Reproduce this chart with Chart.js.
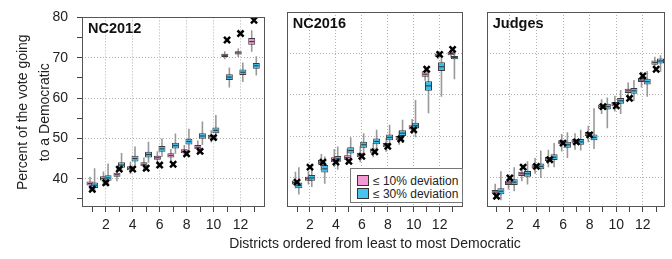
<!DOCTYPE html>
<html>
<head>
<meta charset="utf-8">
<script src="https://cdn.jsdelivr.net/npm/chart.js@4.4.0/dist/chart.umd.min.js"></script>
<style>
  body { margin: 0; background: #fff; width: 672px; height: 259px; position: relative; overflow: hidden;
         font-family: "Liberation Sans", Arial, Helvetica, sans-serif; color: #222; }
  canvas { position: absolute; top: 0; }
  #xtitle { position: absolute; left: 175px; width: 400px; top: 234px; text-align: center; font-size: 14px; line-height: 18px; }
  #leyenda { position: absolute; left: 350px; top: 168px; width: 111px; height: 33px; border: 1px solid #777; background: #fff; font-size: 12px; }
  .fila { position: absolute; left: 6px; height: 12px; line-height: 12px; white-space: nowrap; }
  .cuadro { display: inline-block; width: 10px; height: 9px; border: 1px solid #333; vertical-align: top; margin-right: 4px; }
</style>
</head>
<body>
<canvas id="panel1" width="272" height="240" style="left:0px"></canvas>
<canvas id="panel2" width="190" height="240" style="left:280px"></canvas>
<canvas id="panel3" width="192" height="240" style="left:480px"></canvas>
<div id="xtitle">Districts ordered from least to most Democratic</div>
<div id="leyenda">
  <div class="fila" style="top:6px"><span class="cuadro" style="background:#f49ad2"></span>≤ 10% deviation</div>
  <div class="fila" style="top:19px"><span class="cuadro" style="background:#45c4f0"></span>≤ 30% deviation</div>
</div>
<script>
// distritos ordenados de menos a más demócrata
const districts = [1, 2, 3, 4, 5, 6, 7, 8, 9, 10, 11, 12, 13];

// NC2012 - cajas rosas (≤ 10% deviation)
const nc12PinkMed = [38.8, 40.1, 41.0, 42.6, 43.6, 45.2, 45.8, 46.8, 47.8, 50.4, 70.6, 71.2, 74.0];
const nc12PinkQ1  = [38.3, 39.6, 40.5, 42.1, 43.1, 44.7, 45.3, 46.3, 47.3, 49.9, 70.2, 70.8, 73.2];
const nc12PinkQ3  = [39.3, 40.6, 41.5, 43.1, 44.1, 45.7, 46.3, 47.3, 48.4, 50.9, 71.0, 71.6, 74.9];
const nc12PinkLo  = [37.2, 38.5, 39.4, 41.2, 42.0, 43.8, 44.4, 45.3, 46.3, 49.0, 69.6, 70.2, 71.5];
const nc12PinkHi  = [40.5, 41.8, 42.6, 44.2, 45.3, 46.8, 47.4, 48.4, 49.5, 52.0, 71.6, 72.3, 76.8];
// NC2012 - cajas azules (≤ 30% deviation)
const nc12BlueMed = [38.4, 40.2, 43.4, 45.0, 46.0, 47.4, 48.2, 49.2, 50.6, 52.0, 65.2, 66.4, 68.0];
const nc12BlueQ1  = [37.7, 39.5, 42.7, 44.3, 45.3, 46.7, 47.5, 48.5, 49.9, 51.3, 64.5, 65.7, 67.3];
const nc12BlueQ3  = [39.1, 40.9, 44.1, 45.7, 46.7, 48.1, 48.9, 49.9, 51.3, 52.7, 65.9, 67.1, 68.7];
const nc12BlueLo  = [36.5, 38.2, 41.6, 43.0, 44.0, 45.4, 46.2, 47.2, 48.4, 49.6, 62.6, 64.0, 65.6];
const nc12BlueHi  = [42.6, 43.8, 46.4, 48.0, 49.2, 50.0, 51.2, 52.4, 54.2, 55.8, 67.6, 68.8, 70.4];
// NC2012 - resultado real (cruces)
const nc12Actual  = [37.4, 39.0, 42.4, 42.4, 42.6, 43.4, 43.6, 46.2, 46.8, 50.2, 74.4, 76.0, 79.3];

// NC2016
const nc16PinkMed = [38.9, 39.8, 43.8, 44.4, 44.9, 45.5, 46.6, 47.9, 49.6, 52.2, 65.0, 69.6, 70.0];
const nc16PinkQ1  = [38.4, 39.3, 43.2, 43.8, 44.4, 45.0, 46.1, 47.4, 49.1, 51.7, 64.4, 69.2, 69.6];
const nc16PinkQ3  = [39.4, 40.3, 44.4, 45.0, 45.5, 46.1, 47.1, 48.4, 50.1, 52.7, 65.7, 70.0, 70.4];
const nc16PinkLo  = [37.5, 38.4, 41.8, 42.6, 43.2, 43.8, 45.0, 46.3, 48.0, 50.6, 63.4, 68.6, 69.0];
const nc16PinkHi  = [41.5, 41.6, 45.8, 47.0, 47.0, 47.6, 48.4, 49.6, 51.4, 54.2, 67.0, 70.6, 71.0];
const nc16BlueMed = [38.2, 40.0, 42.2, 44.6, 46.6, 48.0, 48.8, 49.8, 50.8, 52.6, 62.2, 66.8, 69.0];
const nc16BlueQ1  = [37.5, 39.3, 41.3, 43.9, 45.9, 47.3, 48.1, 49.1, 50.1, 51.9, 61.0, 65.8, 68.6];
const nc16BlueQ3  = [38.9, 40.7, 43.1, 45.3, 47.4, 48.7, 49.5, 50.5, 51.5, 53.3, 63.3, 67.9, 69.4];
const nc16BlueLo  = [36.0, 37.8, 38.6, 42.0, 44.0, 45.6, 46.4, 47.4, 48.4, 49.8, 55.6, 59.6, 63.8];
const nc16BlueHi  = [42.6, 42.6, 45.2, 47.6, 49.8, 50.8, 51.6, 52.8, 54.0, 58.8, 65.4, 69.4, 70.2];
const nc16Actual  = [39.0, 42.6, 43.8, 43.8, 44.0, 45.2, 46.3, 47.6, 49.4, 51.6, 66.2, 69.8, 71.0];

// Judges
const judPinkMed = [36.6, 38.8, 41.0, 42.8, 44.6, 48.6, 48.8, 50.6, 57.2, 57.8, 61.0, 63.6, 67.8];
const judPinkQ1  = [36.1, 38.3, 40.5, 42.3, 44.1, 48.1, 48.3, 50.1, 56.7, 57.3, 60.5, 63.1, 67.3];
const judPinkQ3  = [37.1, 39.3, 41.5, 43.3, 45.1, 49.1, 49.3, 51.1, 57.7, 58.3, 61.5, 64.1, 68.3];
const judPinkLo  = [35.0, 37.2, 39.2, 41.0, 42.6, 46.4, 46.8, 48.6, 55.4, 56.0, 59.0, 61.8, 66.0];
const judPinkHi  = [38.6, 40.6, 42.8, 44.8, 46.8, 50.6, 50.8, 52.6, 59.0, 59.8, 63.0, 65.6, 69.2];
const judBlueMed = [36.8, 39.0, 41.0, 42.8, 45.0, 48.0, 48.7, 49.8, 57.2, 58.6, 61.0, 63.2, 68.2];
const judBlueQ1  = [36.1, 38.3, 40.3, 42.1, 44.3, 47.3, 48.0, 49.1, 56.5, 57.9, 60.3, 62.5, 67.6];
const judBlueQ3  = [37.5, 39.7, 41.7, 43.5, 45.7, 48.7, 49.4, 50.5, 57.9, 59.3, 61.7, 63.9, 68.8];
const judBlueLo  = [34.6, 36.8, 38.4, 40.0, 42.6, 44.8, 46.6, 47.0, 52.0, 55.4, 58.6, 59.6, 65.6];
const judBlueHi  = [41.6, 42.6, 44.0, 46.6, 48.4, 51.0, 51.6, 56.8, 59.4, 61.2, 63.6, 65.8, 69.6];
const judActual  = [35.6, 40.0, 42.6, 42.8, 44.4, 48.4, 48.7, 50.4, 57.2, 57.4, 59.2, 64.6, 66.2];

// ejes comunes
const yMin = 33;
const yMax = 80;

Chart.defaults.font.family = '"Liberation Sans", Arial, Helvetica, sans-serif';
Chart.defaults.color = '#222';

const PINK = '#ef8ccb';
const BLUE = '#38bdee';

// plugin para dibujar el marco del panel y su título
const marcoPanel = {
  id: 'marcoPanel',
  afterDraw(chart, args, opts) {
    const {ctx, chartArea} = chart;
    ctx.save();
    ctx.strokeStyle = '#555';
    ctx.lineWidth = 1;
    ctx.strokeRect(Math.round(chartArea.left) + 0.5, Math.round(chartArea.top) + 0.5,
      Math.round(chartArea.right - chartArea.left) - 1, Math.round(chartArea.bottom - chartArea.top) - 1);
    ctx.fillStyle = '#111';
    ctx.font = 'bold 14.5px "Liberation Sans", Arial, sans-serif';
    ctx.textBaseline = 'middle';
    ctx.fillText(opts.text, chartArea.left + 6, chartArea.top + 12);
    ctx.restore();
  }
};

function puntos(offset, valores) {
  return districts.map((d, i) => ({ x: d + offset, y: valores[i] }));
}
function rangos(offset, lo, hi) {
  return districts.map((d, i) => ({ x: d + offset, y: [lo[i], hi[i]] }));
}

function crearPanel(id, p) {
  const datasets = [
    { type: 'bar', label: 'whisker10', data: rangos(p.pinkOff, p.pinkLo, p.pinkHi), xAxisID: 'x',
      backgroundColor: '#999', borderWidth: 0, grouped: false, maxBarThickness: 1.6, order: 7 },
    { type: 'bar', label: 'whisker30', data: rangos(p.blueOff, p.blueLo, p.blueHi), xAxisID: 'xb',
      backgroundColor: '#999', borderWidth: 0, grouped: false, maxBarThickness: 1.6, order: 6 },
    { type: 'bar', label: '≤ 10% deviation', data: rangos(p.pinkOff, p.pinkQ1, p.pinkQ3), xAxisID: 'x',
      backgroundColor: PINK, borderColor: '#3a3a3a', borderWidth: 1, borderSkipped: false,
      grouped: false, maxBarThickness: 7, order: 5 },
    { type: 'scatter', label: 'med10', data: puntos(p.pinkOff, p.pinkMed), xAxisID: 'x',
      pointStyle: 'line', radius: 2.5, borderColor: '#333', borderWidth: 1, order: 4 },
    { type: 'bar', label: '≤ 30% deviation', data: rangos(p.blueOff, p.blueQ1, p.blueQ3), xAxisID: 'xb',
      backgroundColor: BLUE, borderColor: '#3a3a3a', borderWidth: 1, borderSkipped: false,
      grouped: false, maxBarThickness: 7, order: 3 },
    { type: 'scatter', label: 'med30', data: puntos(p.blueOff, p.blueMed), xAxisID: 'xb',
      pointStyle: 'line', radius: 2.5, borderColor: '#333', borderWidth: 1, order: 2 },
    { type: 'scatter', label: 'actual', data: puntos(0, p.actual), xAxisID: 'x',
      pointStyle: 'crossRot', radius: 4.3, borderColor: '#000', borderWidth: 2.5, order: 1 }
  ];

  const colorRejilla = '#b0b0b0';

  return new Chart(document.getElementById(id), {
    type: 'bar',
    data: { datasets },
    plugins: [marcoPanel],
    options: {
      responsive: false,
      animation: false,
      layout: { padding: { left: p.padLeft, right: p.padRight, top: 12, bottom: 0 } },
      plugins: {
        legend: { display: false },
        tooltip: { enabled: false },
        marcoPanel: { text: p.titulo }
      },
      scales: {
        x: {
          type: 'linear', min: p.xMin, max: p.xMax, offset: false,
          grid: {
            offset: false, drawTicks: true, tickLength: 5, tickColor: '#444',
            color: ctx => (ctx.tick && ctx.tick.value % 2 === 0) ? colorRejilla : 'rgba(0,0,0,0)'
          },
          border: { display: false, dash: [1, 2] },
          ticks: {
            stepSize: 1, includeBounds: false, autoSkip: false, maxRotation: 0, padding: 5,
            font: { size: 14 }, color: '#222',
            callback: v => (v % 2 === 0 ? String(v) : '')
          },
          afterFit: s => { s.height = 33; }
        },
        xb: { type: 'linear', display: false, min: p.xMin, max: p.xMax, offset: false },
        y: {
          type: 'linear', min: yMin, max: yMax,
          grid: {
            drawTicks: p.ejeY, tickLength: 5, tickColor: '#444',
            color: ctx => (ctx.tick && ctx.tick.value % 10 === 0 && ctx.tick.value < yMax) ? colorRejilla : 'rgba(0,0,0,0)'
          },
          border: { display: false, dash: [1, 2] },
          ticks: {
            display: p.ejeY, stepSize: 5, includeBounds: false, padding: 9,
            font: { size: 14 }, color: '#222',
            callback: v => (v % 10 === 0 ? String(v) : '')
          },
          title: {
            display: p.ejeY,
            text: ['Percent of the vote going', 'to a Democratic'],
            font: { size: 14, lineHeight: '22px' }, color: '#222',
            padding: { top: 12, bottom: 0 }
          },
          afterFit: s => { s.width = p.ejeY ? 82 : 0; }
        }
      }
    }
  });
}

crearPanel('panel1', {
  titulo: 'NC2012', ejeY: true, padLeft: 0, padRight: 7, xMin: 0.236, xMax: 13.816,
  pinkOff: -0.17, blueOff: 0.17,
  pinkMed: nc12PinkMed, pinkQ1: nc12PinkQ1, pinkQ3: nc12PinkQ3, pinkLo: nc12PinkLo, pinkHi: nc12PinkHi,
  blueMed: nc12BlueMed, blueQ1: nc12BlueQ1, blueQ3: nc12BlueQ3, blueLo: nc12BlueLo, blueHi: nc12BlueHi,
  actual: nc12Actual
});

crearPanel('panel2', {
  titulo: 'NC2016', ejeY: false, padLeft: 3, padRight: 4, xMin: 0.213, xMax: 13.816,
  pinkOff: -0.12, blueOff: 0.14,
  pinkMed: nc16PinkMed, pinkQ1: nc16PinkQ1, pinkQ3: nc16PinkQ3, pinkLo: nc16PinkLo, pinkHi: nc16PinkHi,
  blueMed: nc16BlueMed, blueQ1: nc16BlueQ1, blueQ3: nc16BlueQ3, blueLo: nc16BlueLo, blueHi: nc16BlueHi,
  actual: nc16Actual
});

crearPanel('panel3', {
  titulo: 'Judges', ejeY: false, padLeft: 4, padRight: 4, xMin: 0.27, xMax: 13.68,
  pinkOff: -0.1, blueOff: 0.33,
  pinkMed: judPinkMed, pinkQ1: judPinkQ1, pinkQ3: judPinkQ3, pinkLo: judPinkLo, pinkHi: judPinkHi,
  blueMed: judBlueMed, blueQ1: judBlueQ1, blueQ3: judBlueQ3, blueLo: judBlueLo, blueHi: judBlueHi,
  actual: judActual
});
</script>
</body>
</html>
